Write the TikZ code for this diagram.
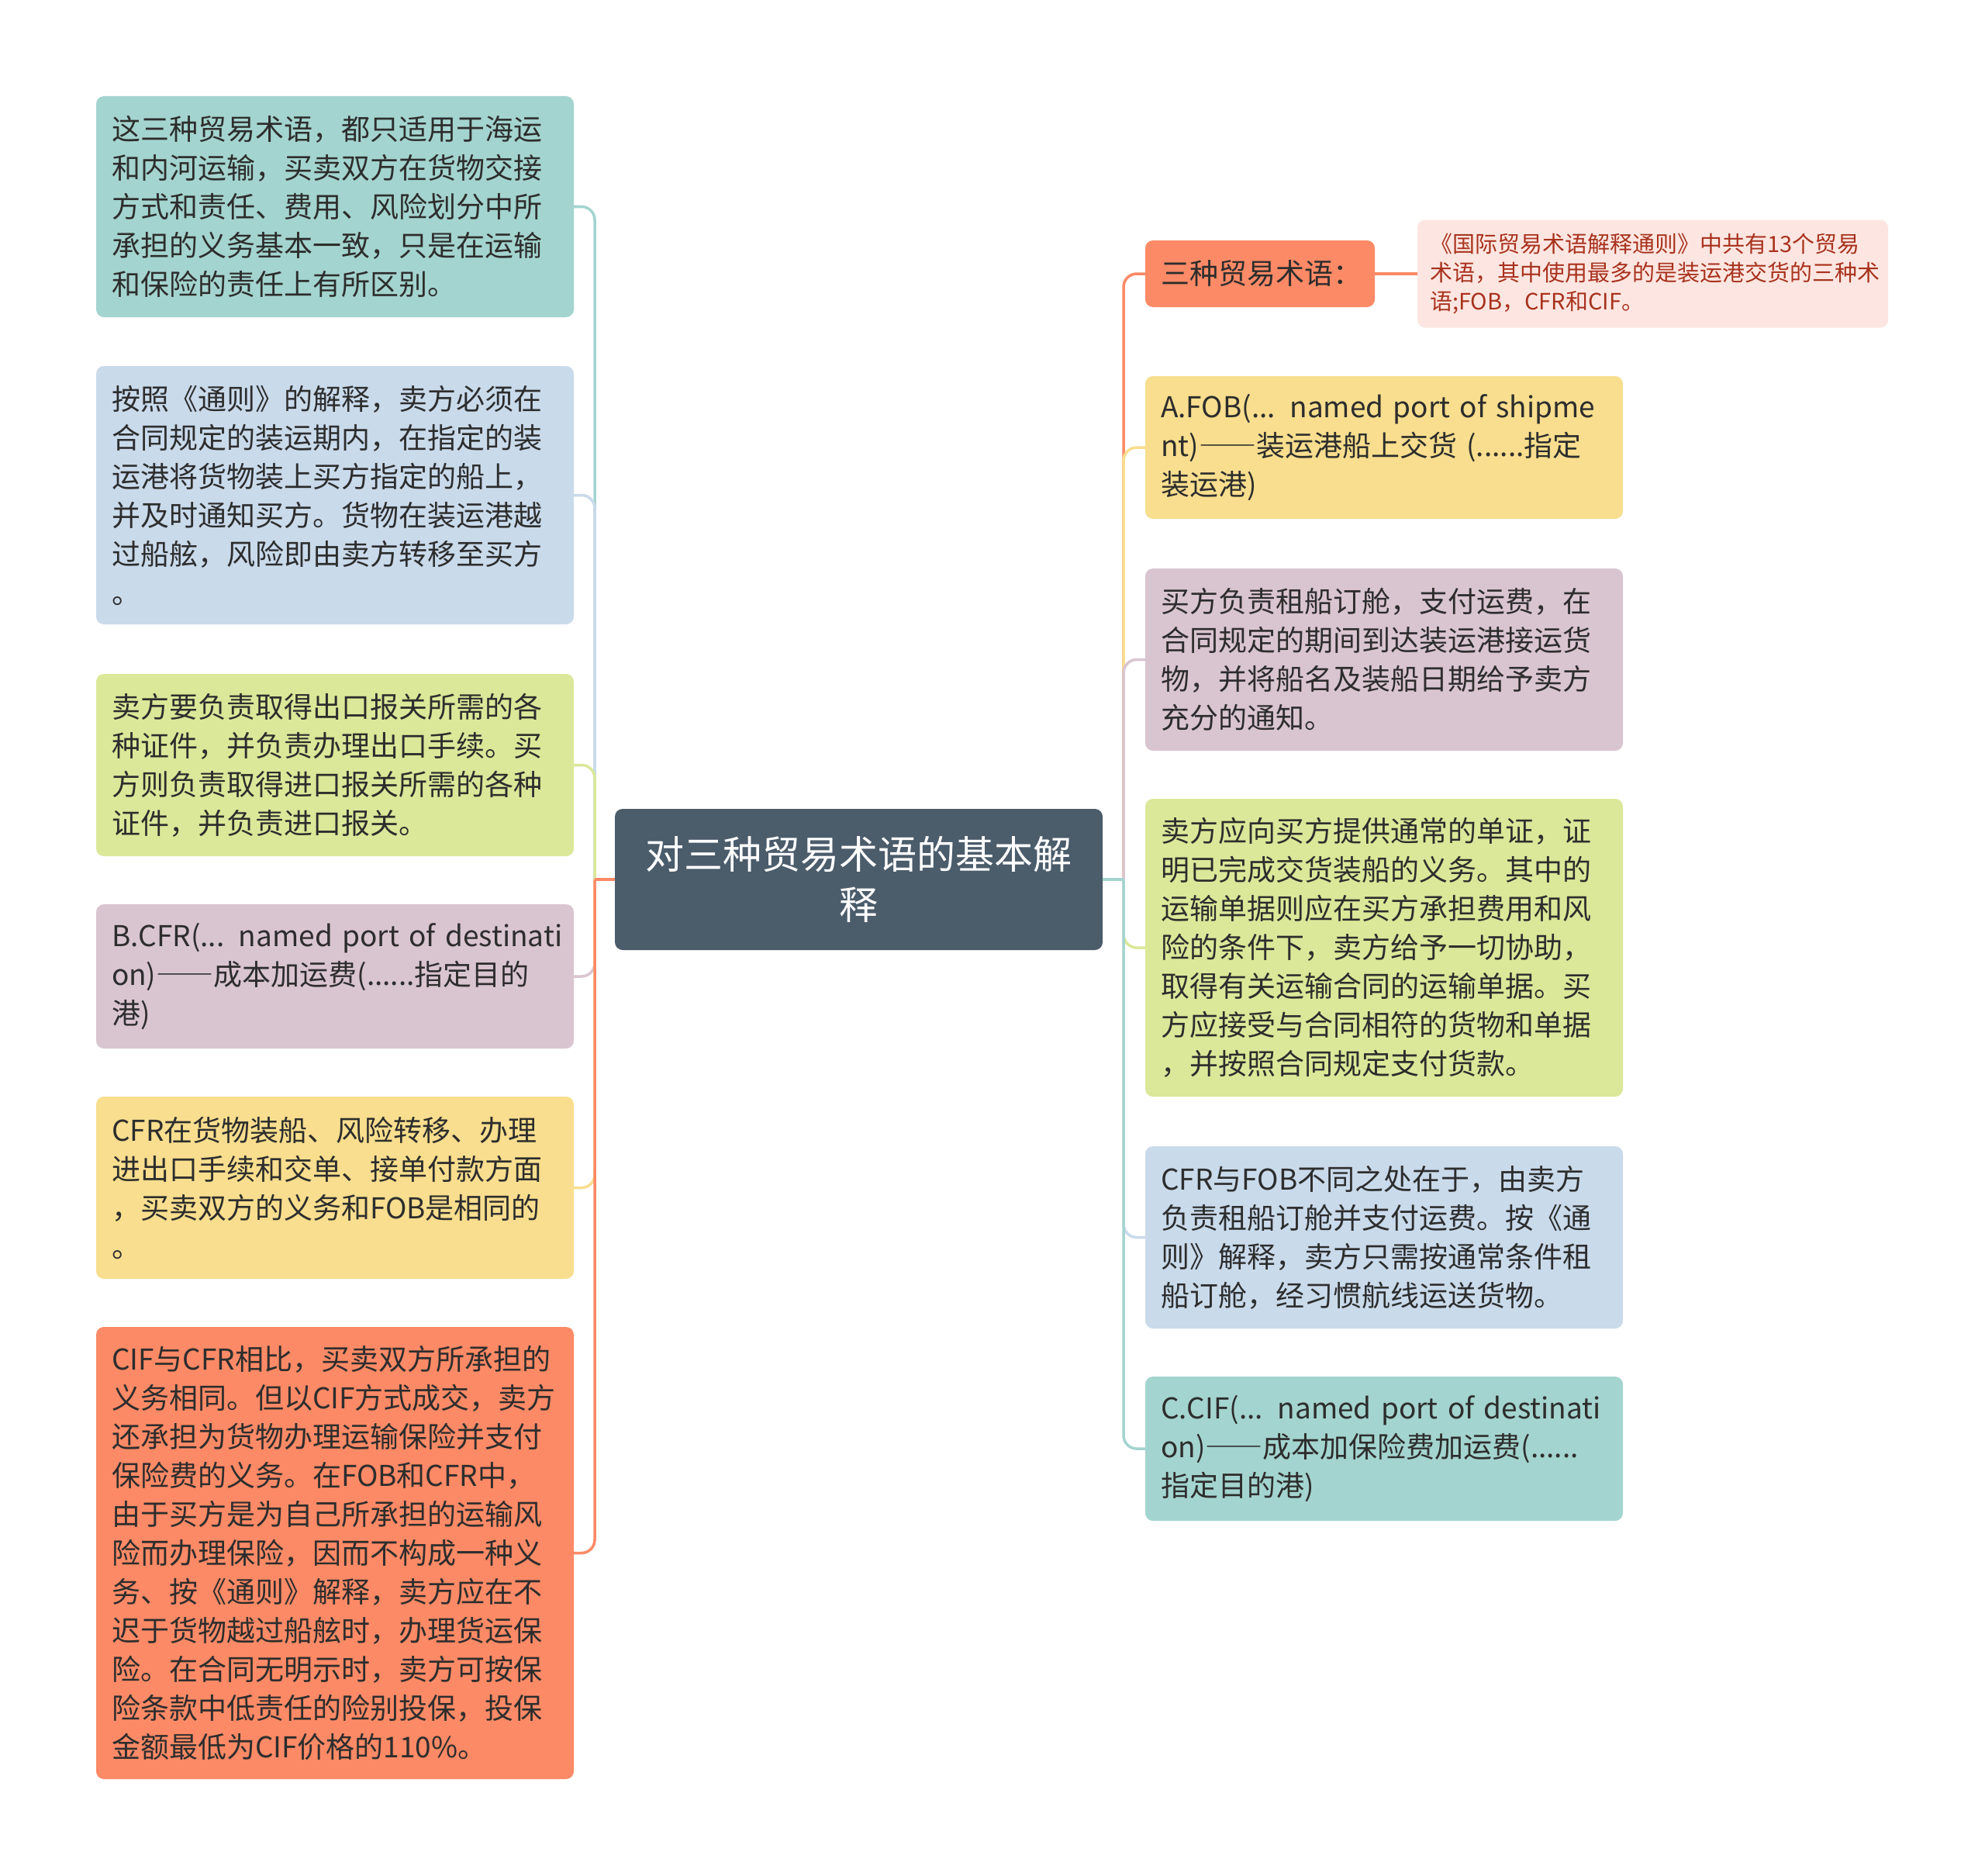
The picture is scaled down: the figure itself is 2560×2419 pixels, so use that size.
\documentclass[tikz,border=0pt]{standalone}
\usepackage{fontspec}
\setmainfont{Noto Sans CJK SC}
\definecolor{cTeal}{HTML}{A4D4CF}
\definecolor{cBlue}{HTML}{C9DAEB}
\definecolor{cLime}{HTML}{DBE899}
\definecolor{cMauve}{HTML}{D9C5D0}
\definecolor{cYellow}{HTML}{F8DE8E}
\definecolor{cOrange}{HTML}{FC8A66}
\definecolor{cPink}{HTML}{FDE6E1}
\definecolor{cRoot}{HTML}{4B5C6B}
\definecolor{txt}{HTML}{2D2D2D}
\definecolor{pinktxt}{HTML}{A8321E}
\newcommand{\LN}[1]{\mbox{#1}}
\newcommand{\fwdash}{{\addfontfeature{RawFeature=+fwid}——}}
\begin{document}
\begin{tikzpicture}[x=1pt,y=-1pt,
  box/.style={rounded corners=10pt, inner xsep=20pt, inner ysep=0pt, align=left,
    text=txt, font=\fontsize{37}{50}\selectfont, text width=576pt},
  conn/.style={line width=3.5pt},
]
\fill[white] (0,0) rectangle (2560,2419);
\useasboundingbox (0,0) rectangle (2560,2419);

% root
\node[rounded corners=10pt, fill=cRoot, text=white, align=center,
  font=\fontsize{50}{65}\selectfont, minimum width=629pt, minimum height=182pt,
  inner sep=0pt] (root) at (1107.5,1134) {对三种贸易术语的基本解\\释};

% left nodes
\node[box, fill=cTeal, minimum height=285pt] (L1) at (432,266.5) {%
\LN{这三种贸易术语，都只适用于海运}\\
\LN{和内河运输，买卖双方在货物交接}\\
\LN{方式和责任、费用、风险划分中所}\\
\LN{承担的义务基本一致，只是在运输}\\
\LN{和保险的责任上有所区别。}};

\node[box, fill=cBlue, minimum height=333pt] (L2) at (432,638.5) {%
\LN{按照《通则》的解释，卖方必须在}\\
\LN{合同规定的装运期内，在指定的装}\\
\LN{运港将货物装上买方指定的船上，}\\
\LN{并及时通知买方。货物在装运港越}\\
\LN{过船舷，风险即由卖方转移至买方}\\
\LN{。}};

\node[box, fill=cLime, minimum height=235pt] (L3) at (432,986.5) {%
\LN{卖方要负责取得出口报关所需的各}\\
\LN{种证件，并负责办理出口手续。买}\\
\LN{方则负责取得进口报关所需的各种}\\
\LN{证件，并负责进口报关。}};

\node[box, fill=cMauve, minimum height=186pt] (L4) at (432,1259) {%
\LN{B.CFR(... named port of destinati}\\
\LN{on)\fwdash 成本加运费(......指定目的}\\
\LN{港)}};

\node[box, fill=cYellow, minimum height=235pt] (L5) at (432,1531.5) {%
\LN{CFR在货物装船、风险转移、办理}\\
\LN{进出口手续和交单、接单付款方面}\\
\LN{，买卖双方的义务和FOB是相同的}\\
\LN{。}};

\node[box, fill=cOrange, minimum height=583pt] (L6) at (432,2002.5) {%
\LN{CIF与CFR相比，买卖双方所承担的}\\
\LN{义务相同。但以CIF方式成交，卖方}\\
\LN{还承担为货物办理运输保险并支付}\\
\LN{保险费的义务。在FOB和CFR中，}\\
\LN{由于买方是为自己所承担的运输风}\\
\LN{险而办理保险，因而不构成一种义}\\
\LN{务、按《通则》解释，卖方应在不}\\
\LN{迟于货物越过船舷时，办理货运保}\\
\LN{险。在合同无明示时，卖方可按保}\\
\LN{险条款中低责任的险别投保，投保}\\
\LN{金额最低为CIF价格的110\%。}};

% right nodes
\node[box, fill=cOrange, text width=256pt, minimum height=86pt] (R1) at (1625,353) {%
\LN{三种贸易术语：}};

\node[rounded corners=10pt, fill=cPink, text=pinktxt, align=left, inner xsep=16pt,
  inner ysep=0pt, text width=575pt, minimum height=139pt,
  font=\fontsize{29}{37}\selectfont] (R1c) at (2131.5,353) {%
\LN{《国际贸易术语解释通则》中共有13个贸易}\\
\LN{术语，其中使用最多的是装运港交货的三种术}\\
\LN{语;FOB，CFR和CIF。}};

\node[box, fill=cYellow, minimum height=184pt] (R2) at (1785,577) {%
\LN{A.FOB(... named port of shipme}\\
\LN{nt)\fwdash 装运港船上交货 (......指定}\\
\LN{装运港)}};

\node[box, fill=cMauve, minimum height=235pt] (R3) at (1785,850.5) {%
\LN{买方负责租船订舱，支付运费，在}\\
\LN{合同规定的期间到达装运港接运货}\\
\LN{物，并将船名及装船日期给予卖方}\\
\LN{充分的通知。}};

\node[box, fill=cLime, minimum height=384pt] (R4) at (1785,1222) {%
\LN{卖方应向买方提供通常的单证，证}\\
\LN{明已完成交货装船的义务。其中的}\\
\LN{运输单据则应在买方承担费用和风}\\
\LN{险的条件下，卖方给予一切协助，}\\
\LN{取得有关运输合同的运输单据。买}\\
\LN{方应接受与合同相符的货物和单据}\\
\LN{，并按照合同规定支付货款。}};

\node[box, fill=cBlue, minimum height=235pt] (R5) at (1785,1595.5) {%
\LN{CFR与FOB不同之处在于，由卖方}\\
\LN{负责租船订舱并支付运费。按《通}\\
\LN{则》解释，卖方只需按通常条件租}\\
\LN{船订舱，经习惯航线运送货物。}};

\node[box, fill=cTeal, minimum height=186pt] (R6) at (1785,1868) {%
\LN{C.CIF(... named port of destinati}\\
\LN{on)\fwdash 成本加保险费加运费(......}\\
\LN{指定目的港)}};

% spine junctions
\coordinate (sL) at (767,1134);
\coordinate (sR) at (1449,1134);

% connectors left
\foreach \n/\c in {L1/cTeal, L2/cBlue, L3/cLime, L4/cMauve, L5/cYellow, L6/cOrange} {
  \draw[conn, draw=\c] (root.west) -- (sL);
  \draw[conn, draw=\c, rounded corners=17pt] (sL) |- (\n.east);
}
% connectors right
\foreach \n/\c in {R1/cOrange, R2/cYellow, R3/cMauve, R4/cLime, R5/cBlue, R6/cTeal} {
  \draw[conn, draw=\c] (root.east) -- (sR);
  \draw[conn, draw=\c, rounded corners=17pt] (sR) |- (\n.west);
}
\draw[conn, draw=cOrange] (R1.east) -- (R1c.west);
\end{tikzpicture}
\end{document}
